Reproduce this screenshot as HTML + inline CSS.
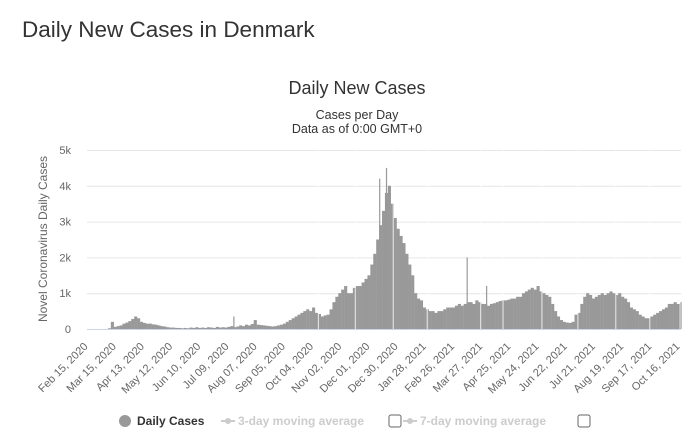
<!DOCTYPE html>
<html><head><meta charset="utf-8"><style>
body{margin:0;background:#fff;font-family:"Liberation Sans",sans-serif;}
svg text{font-family:"Liberation Sans",sans-serif;}
</style></head><body>
<svg width="700" height="440" viewBox="0 0 700 440">
<text x="22" y="37" font-size="22.5" fill="#333">Daily New Cases in Denmark</text>
<text x="357" y="94" font-size="18" fill="#333" text-anchor="middle">Daily New Cases</text>
<text x="357" y="119" font-size="12.5" fill="#333" text-anchor="middle">Cases per Day</text>
<text x="357" y="133" font-size="12.5" fill="#333" text-anchor="middle">Data as of 0:00 GMT+0</text>
<text transform="translate(47,239) rotate(-90)" font-size="12" fill="#666" text-anchor="middle">Novel Coronavirus Daily Cases</text>
<g id="grid"></g><g id="bars"></g><g id="xl"></g>
<line x1="87" y1="329.5" x2="681" y2="329.5" stroke="#ccd6eb"/>
<g>
<g><circle cx="125" cy="421" r="6" fill="#999"/><text x="137" y="425" font-size="12" font-weight="bold" fill="#333">Daily Cases</text></g>
<g><line x1="221" y1="421" x2="235" y2="421" stroke="#ccc" stroke-width="2"/><circle cx="228" cy="421" r="3" fill="#ccc"/><text x="238" y="425" font-size="12" font-weight="bold" fill="#ccc">3-day moving average</text></g>
<rect x="389" y="415" width="12" height="12" rx="2" fill="#fff" stroke="#666"/>
<g><line x1="403" y1="421" x2="417" y2="421" stroke="#ccc" stroke-width="2"/><circle cx="410" cy="421" r="3" fill="#ccc"/><text x="420" y="425" font-size="12" font-weight="bold" fill="#ccc">7-day moving average</text></g>
<rect x="578" y="415" width="12" height="12" rx="2" fill="#fff" stroke="#666"/>
</g>
</svg>
<script>
// cases per 3-day bin, in thousands, starting Feb 15, 2020
const binValues = [0,0,0,0,0,0,0,0.02,0.2,0.06,
0.08,0.1,0.15,0.18,0.22,0.28,0.35,0.3,0.2,0.17,
0.15,0.15,0.13,0.12,0.1,0.08,0.07,0.05,0.04,0.04,
0.03,0.03,0.02,0.03,0.02,0.04,0.03,0.05,0.03,0.04,
0.03,0.05,0.04,0.03,0.06,0.04,0.05,0.04,0.06,0.08,
0.05,0.07,0.1,0.08,0.12,0.1,0.14,0.25,0.12,0.11,
0.1,0.09,0.08,0.07,0.08,0.1,0.12,0.15,0.2,0.25,
0.3,0.35,0.4,0.45,0.5,0.55,0.5,0.6,0.45,0.42,
0.35,0.38,0.4,0.55,0.75,0.9,1.0,1.1,1.2,1.0,
1.0,1.15,1.2,1.2,1.3,1.4,1.5,1.8,2.1,2.5,
2.9,3.3,3.8,4.0,3.5,3.1,2.8,2.6,2.4,2.1,
1.8,1.5,1.0,0.85,0.8,0.6,0.55,0.5,0.5,0.45,
0.5,0.5,0.55,0.6,0.6,0.6,0.65,0.7,0.65,0.7,
0.75,0.75,0.7,0.8,0.75,0.7,0.7,0.65,0.7,0.72,
0.75,0.78,0.8,0.8,0.82,0.85,0.85,0.9,0.9,1.0,
1.05,1.1,1.15,1.1,1.2,1.05,1.0,0.95,0.9,0.7,
0.5,0.35,0.25,0.2,0.18,0.17,0.2,0.4,0.45,0.7,
0.9,1.0,0.95,0.85,0.9,0.95,1.0,0.95,1.0,1.05,
1.0,0.95,1.0,0.9,0.85,0.75,0.6,0.55,0.5,0.4,
0.35,0.3,0.3,0.35,0.4,0.45,0.5,0.55,0.6,0.7,
0.7,0.75,0.7];
const spikeDays = [307,300,390,410,150,610];
const spikeValues = [4.5,4.2,2.0,1.2,0.35,0.75];
const gapDays = [237,275,314,349,404,427,467,504,543,578];
const yTicks = [0,1,2,3,4,5];
const yTickLabels = ["0","1k","2k","3k","4k","5k"];
const xTickLabels = ["Feb 15, 2020","Mar 15, 2020","Apr 13, 2020","May 12, 2020","Jun 10, 2020","Jul 09, 2020","Aug 07, 2020","Sep 05, 2020","Oct 04, 2020","Nov 02, 2020","Dec 01, 2020","Dec 30, 2020","Jan 28, 2021","Feb 26, 2021","Mar 27, 2021","Apr 25, 2021","May 24, 2021","Jun 22, 2021","Jul 21, 2021","Aug 19, 2021","Sep 17, 2021","Oct 16, 2021"];
const tickEveryDays = 29;
const binDays = 3;

const NS="http://www.w3.org/2000/svg";
const X0=87.5, PXD=0.972, Y0=329, PXK=35.8;
const xs=d=>X0+d*PXD, ys=v=>Y0-v*PXK;
function mk(t,a,p){const e=document.createElementNS(NS,t);for(const k in a)e.setAttribute(k,a[k]);p.appendChild(e);return e;}
const grid=document.getElementById('grid'),bars=document.getElementById('bars'),xl=document.getElementById('xl');
yTicks.forEach((v,i)=>{
 if(v>0){const l=mk('line',{x1:87,x2:681,y1:ys(v)+0.5,y2:ys(v)+0.5,stroke:'#e6e6e6'},grid);
 
 }
 const t=mk('text',{x:71,y:ys(v)+4,'font-size':11,fill:'#666','text-anchor':'end'},grid);
 t.textContent=yTickLabels[i];
 
 
});
binValues.forEach((v,i)=>{
 const x=xs(i*binDays);
 const r=mk('rect',{x:x,y:ys(v),width:binDays*PXD+0.2,height:v*PXK,fill:'#999'},bars);
 
 
});
spikeDays.forEach((d,i)=>{
 const r=mk('rect',{x:xs(d),y:ys(spikeValues[i]),width:1.2,height:spikeValues[i]*PXK,fill:'#999'},bars);
 
 
});
gapDays.forEach(d=>{
 const r=mk('rect',{x:xs(d),y:ys(5),width:1,height:5*PXK,fill:'#fff',opacity:0.8},bars);
 
 
});
xTickLabels.forEach((s,i)=>{
 const x=xs(i*tickEveryDays);
 const t=mk('text',{transform:`translate(${x+1},347) rotate(-45)`,'font-size':11,fill:'#666','text-anchor':'end'},xl);
 t.textContent=s;
 
 
});
</script>
</body></html>
